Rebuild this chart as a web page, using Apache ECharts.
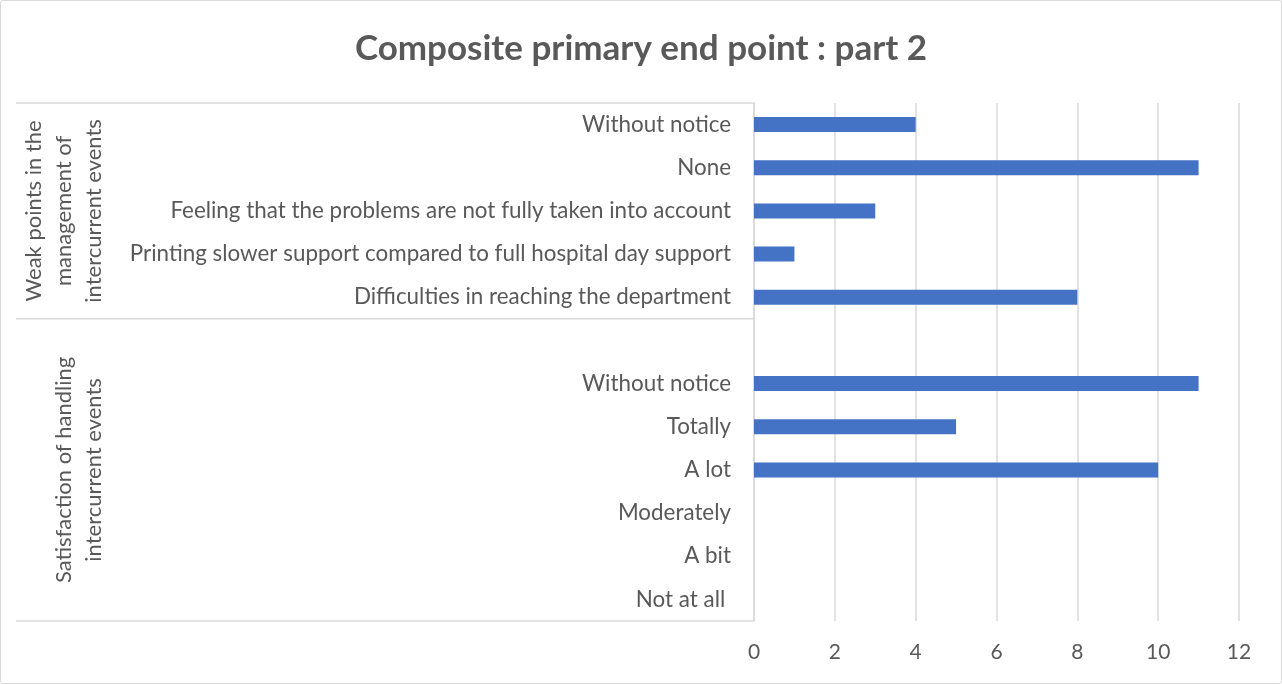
<!DOCTYPE html>
<html>
<head>
<meta charset="utf-8">
<script src="https://cdn.jsdelivr.net/npm/echarts@6/dist/echarts.min.js"></script>
<style>
  html, body { margin: 0; padding: 0; background: #fff; }
  #chart {
    width: 1282px;
    height: 684px;
    box-sizing: border-box;
    border: 1px solid #d9d9d9;
    border-radius: 3px;
  }
</style>
</head>
<body>
<div id="chart"></div>
<script>
// categories top to bottom, '' = spacer row
var categories = [
  "Without notice",
  "None",
  "Feeling that the problems are not fully taken into account",
  "Printing slower support compared to full hospital day support",
  "Difficulties in reaching the department",
  "",
  "Without notice",
  "Totally",
  "A lot",
  "Moderately",
  "A bit",
  "Not at all "
];
var values = [4, 11, 3, 1, 8, null, 11, 5, 10, 0, 0, 0];
// outer category level
var groupNames = [
  "Weak points in the\nmanagement of\nintercurrent events",
  "Satisfaction of handling\nintercurrent events"
];
var groupSizes = [5, 7];
var xTicks = [0, 12, 2]; // min, max, interval

var textColor = "#595959";
var lineColor = "#d9d9d9";
var font = "Lato";

var myChart = echarts.init(document.getElementById("chart"));

var option = {
  animation: false,
  title: {
    text: "Composite primary end point : part 2",
    left: "center",
    top: 25,
    textStyle: {
      fontFamily: font,
      fontSize: 35,
      fontWeight: "bold",
      color: textColor
    }
  },
  grid: {
    left: 753,
    right: 42,
    top: 102,
    bottom: 62
  },
  xAxis: {
    type: "value",
    min: xTicks[0],
    max: xTicks[1],
    interval: xTicks[2],
    axisLine: { show: false },
    axisTick: { show: false },
    axisLabel: {
      color: textColor,
      fontFamily: font,
      fontSize: 21,
      margin: 21
    },
    splitLine: {
      lineStyle: { color: lineColor, width: 1.5 }
    }
  },
  yAxis: {
    type: "category",
    inverse: true,
    data: categories,
    axisLine: { lineStyle: { color: lineColor, width: 1.5 } },
    axisTick: { show: false },
    axisLabel: {
      color: textColor,
      fontFamily: font,
      fontSize: 22.4,
      margin: 23,
      interval: 0
    }
  },
  series: [
    {
      type: "bar",
      data: values,
      barWidth: 15,
      itemStyle: { color: "#4472c4" }
    }
  ]
};

myChart.setOption(option);

// multi-level category box: separators and rotated group labels
function bandEdge(i) {
  var a = myChart.convertToPixel({ yAxisIndex: 0 }, 0);
  var step = myChart.convertToPixel({ yAxisIndex: 0 }, 1) - a;
  return a - step / 2 + step * i;
}
var leftX = 15;
var axisX = myChart.convertToPixel({ xAxisIndex: 0 }, 0);
var graphics = [];
var start = 0;
graphics.push({
  type: "line",
  shape: { x1: leftX, y1: bandEdge(0), x2: axisX, y2: bandEdge(0) },
  style: { stroke: lineColor, lineWidth: 1.5 }
});
for (var g = 0; g < groupNames.length; g++) {
  var end = start + groupSizes[g];
  var y0 = bandEdge(start), y1 = bandEdge(end);
  graphics.push({
    type: "line",
    shape: { x1: leftX, y1: y1, x2: axisX, y2: y1 },
    style: { stroke: lineColor, lineWidth: 1.5 }
  });
  graphics.push({
    type: "text",
    x: 108,
    y: (y0 + y1) / 2,
    rotation: Math.PI / 2,
    style: {
      text: groupNames[g],
      fill: textColor,
      font: "22px " + font,
      lineHeight: 30,
      align: "center",
      verticalAlign: "bottom"
    }
  });
  start = end;
}
myChart.setOption({ graphic: graphics });
</script>
</body>
</html>
